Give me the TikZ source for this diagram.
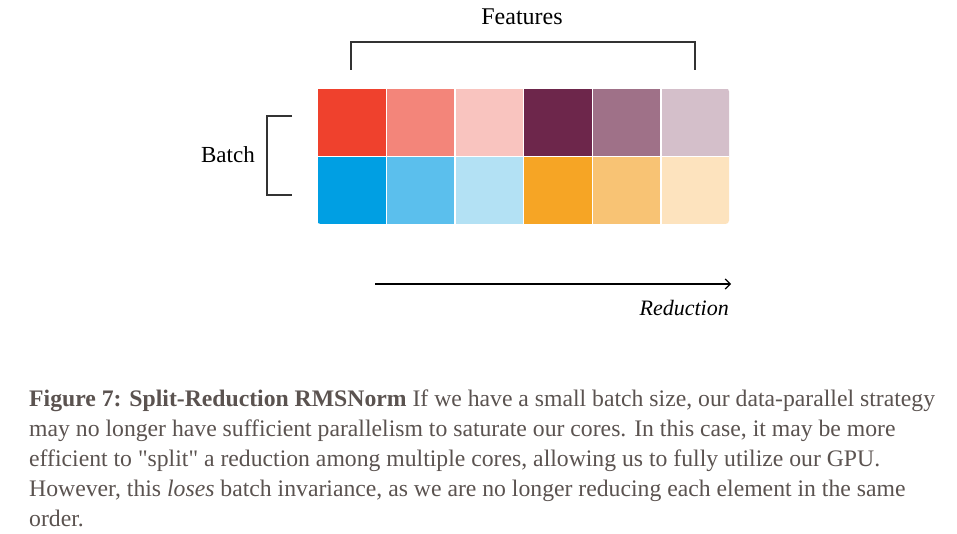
\documentclass[tikz,border=0pt]{standalone}
\usepackage{fontspec}
\setmainfont{Liberation Serif}[Ligatures=TeXOff]
\usetikzlibrary{arrows.meta}
\definecolor{c11}{HTML}{EF412D}
\definecolor{c12}{HTML}{F3857A}
\definecolor{c13}{HTML}{F9C4BF}
\definecolor{c14}{HTML}{6D264B}
\definecolor{c15}{HTML}{9F7188}
\definecolor{c16}{HTML}{D4BFCA}
\definecolor{c21}{HTML}{009FE3}
\definecolor{c22}{HTML}{5BBFED}
\definecolor{c23}{HTML}{B3E1F4}
\definecolor{c24}{HTML}{F6A525}
\definecolor{c25}{HTML}{F8C374}
\definecolor{c26}{HTML}{FDE3BE}
\definecolor{captxt}{HTML}{5B5350}
\definecolor{brk}{HTML}{333333}
\tikzset{
  cell/.style={rectangle, inner sep=0pt, minimum width=68.667pt, minimum height=68pt, draw=white, line width=1.4pt, anchor=north west},
  bracket/.style={draw=brk, line width=1.5pt},
  lbl/.style={inner sep=0pt, font=\fontsize{23}{28}\selectfont, text=black},
  captext/.style={inner sep=0pt, anchor=base west, font=\fontsize{23.7}{30}\selectfont, text=captxt},
}
\begin{document}
\begin{tikzpicture}[x=1pt,y=-1pt]
\useasboundingbox (0,0) rectangle (957,534);
\fill[white] (0,0) rectangle (957,534);
% grid
\begin{scope}
\clip[rounded corners=3.5pt] (317,88) rectangle (729,224);
\foreach \c [count=\i from 0] in {c11,c12,c13,c14,c15,c16}{
  \node[cell, fill=\c] (r1c\i) at (317+\i*68.667,88) {};
}
\foreach \c [count=\i from 0] in {c21,c22,c23,c24,c25,c26}{
  \node[cell, fill=\c] (r2c\i) at (317+\i*68.667,156) {};
}
\end{scope}
% Features bracket
\coordinate (fa) at (351,70);
\coordinate (fb) at (351,42);
\coordinate (fc) at (695,42);
\coordinate (fd) at (695,70);
\draw[bracket] (fa) -- (fb) -- (fc) -- (fd);
\node[lbl, anchor=base, font=\fontsize{24}{28}\selectfont] (features) at (522,25) {Features};
% Batch bracket
\coordinate (ba) at (292,116);
\coordinate (bb) at (267,116);
\coordinate (bc) at (267,195);
\coordinate (bd) at (292,195);
\draw[bracket] (ba) -- (bb) -- (bc) -- (bd);
\node[lbl, anchor=base east] (batch) at (255,163) {Batch};
% Reduction arrow
\coordinate (ra) at (375,284);
\coordinate (rb) at (731,284);
\draw[line width=1.3pt, -{Straight Barb[length=5pt,width=10pt,line width=1.2pt]}] (ra) -- (rb);
\node[lbl, anchor=base east, font=\fontsize{22}{28}\selectfont\itshape] (reduction) at (729,315) {Reduction};
% caption
\node[captext] (l1) at (29,406) {\textbf{Figure 7: Split-Reduction RMSNorm} If we have a small batch size, our data-parallel strategy};
\node[captext] (l2) at (29,436) {may no longer have sufficient parallelism to saturate our cores. In this case, it may be more};
\node[captext] (l3) at (29,466) {efficient to "split" a reduction among multiple cores, allowing us to fully utilize our GPU.};
\node[captext] (l4) at (29,496) {However, this \textit{loses} batch invariance, as we are no longer reducing each element in the same};
\node[captext] (l5) at (29,526) {order.};
\end{tikzpicture}
\end{document}
